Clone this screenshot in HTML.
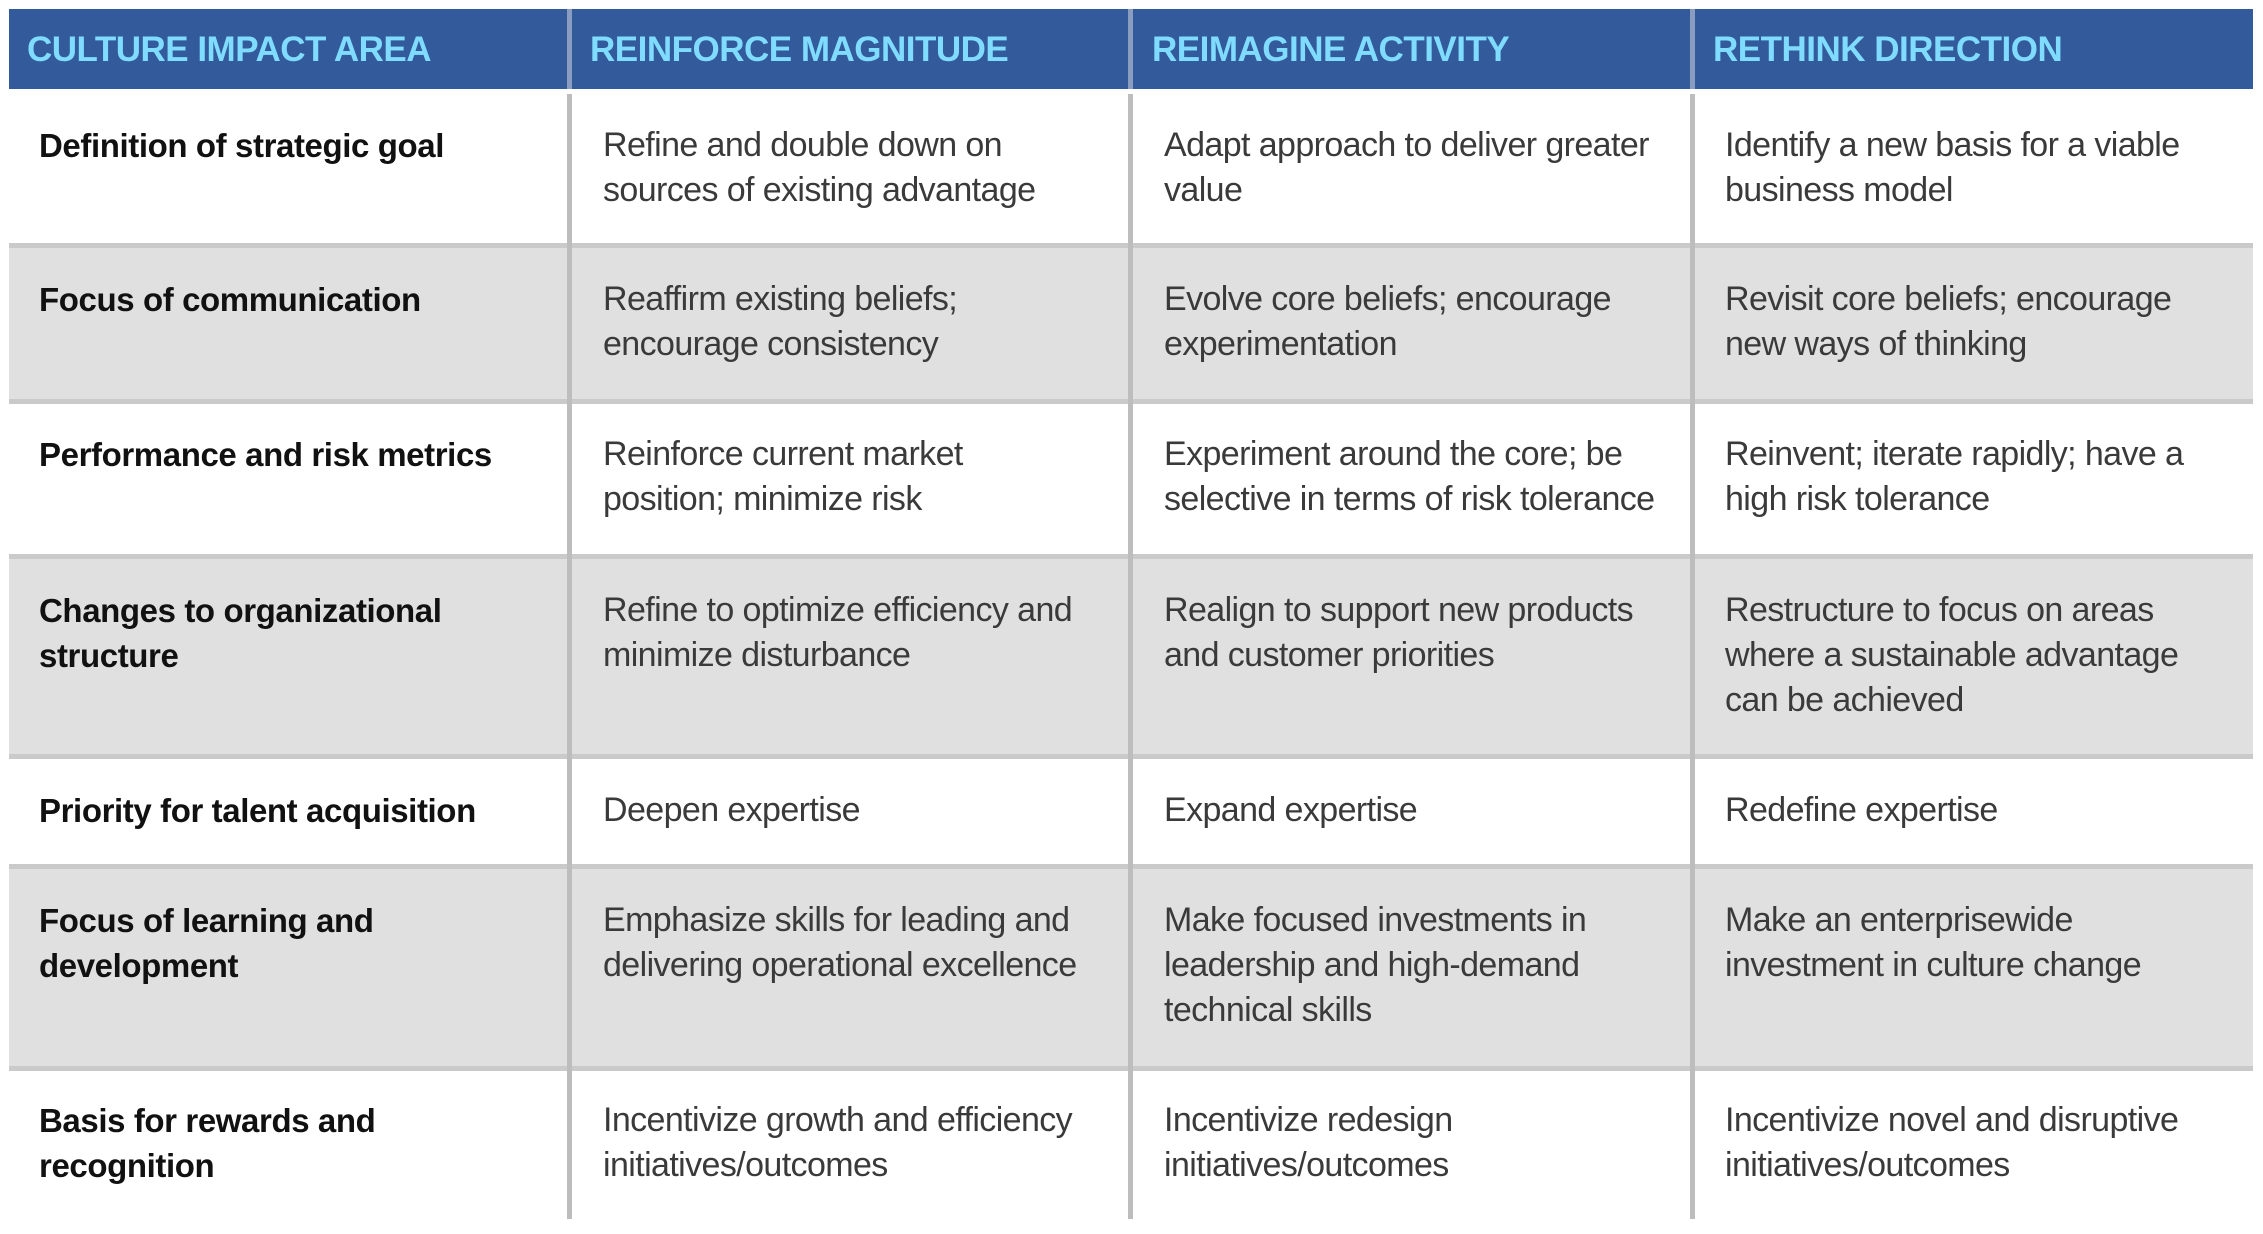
<!DOCTYPE html>
<html><head><meta charset="utf-8"><style>
html,body{margin:0;padding:0;background:#fff;}
body{width:2263px;height:1234px;position:relative;overflow:hidden;font-family:"Liberation Sans",sans-serif;}
.hdr{position:absolute;left:9px;top:9px;width:2244px;height:80px;background:#335a9a;}
.h{position:absolute;top:9px;height:80px;line-height:82px;color:#7fdcff;font-weight:bold;font-size:35px;letter-spacing:-0.5px;white-space:nowrap;}
.row{position:absolute;left:9px;width:2244px;}
.g{background:#e0e0e0;}
.hl{position:absolute;left:9px;width:2244px;height:5px;background:#cacaca;}
.vl{position:absolute;width:5px;background:#bdbdbd;}
.t{position:absolute;font-size:34px;line-height:45px;color:#3a3a3a;letter-spacing:-0.6px;white-space:nowrap;}
.b{font-weight:bold;color:#111;letter-spacing:-0.4px;font-size:33px;}
</style></head><body>
<div class="hdr"></div>
<div class="vl" style="left:567px;top:9px;height:80px;background:#8a9cc0"></div>
<div class="vl" style="left:1128px;top:9px;height:80px;background:#8a9cc0"></div>
<div class="vl" style="left:1690px;top:9px;height:80px;background:#8a9cc0"></div>
<div class="h" style="left:27px">CULTURE IMPACT AREA</div>
<div class="h" style="left:590px">REINFORCE MAGNITUDE</div>
<div class="h" style="left:1152px">REIMAGINE ACTIVITY</div>
<div class="h" style="left:1713px">RETHINK DIRECTION</div>

<div class="row" style="top:89px;height:156px"></div>
<div class="row g" style="top:245px;height:156px"></div>
<div class="row" style="top:401px;height:155px"></div>
<div class="row g" style="top:556px;height:200px"></div>
<div class="row" style="top:756px;height:110px"></div>
<div class="row g" style="top:866px;height:202px"></div>
<div class="row" style="top:1068px;height:151px"></div>

<div class="hl" style="top:243px"></div>
<div class="hl" style="top:399px"></div>
<div class="hl" style="top:554px"></div>
<div class="hl" style="top:754px"></div>
<div class="hl" style="top:864px"></div>
<div class="hl" style="top:1066px"></div>

<div class="vl" style="left:567px;top:94px;height:1125px"></div>
<div class="vl" style="left:1128px;top:94px;height:1125px"></div>
<div class="vl" style="left:1690px;top:94px;height:1125px"></div>

<!-- row 1 -->
<div class="t b" style="left:39px;top:123px">Definition of strategic goal</div>
<div class="t" style="left:603px;top:123px">Refine and double down on<br>sources of existing advantage</div>
<div class="t" style="left:1164px;top:123px">Adapt approach to deliver greater<br>value</div>
<div class="t" style="left:1725px;top:123px">Identify a new basis for a viable<br>business model</div>
<!-- row 2 -->
<div class="t b" style="left:39px;top:277px">Focus of communication</div>
<div class="t" style="left:603px;top:277px">Reaffirm existing beliefs;<br>encourage consistency</div>
<div class="t" style="left:1164px;top:277px">Evolve core beliefs; encourage<br>experimentation</div>
<div class="t" style="left:1725px;top:277px">Revisit core beliefs; encourage<br>new ways of thinking</div>
<!-- row 3 -->
<div class="t b" style="left:39px;top:432px">Performance and risk metrics</div>
<div class="t" style="left:603px;top:432px">Reinforce current market<br>position; minimize risk</div>
<div class="t" style="left:1164px;top:432px">Experiment around the core; be<br>selective in terms of risk tolerance</div>
<div class="t" style="left:1725px;top:432px">Reinvent; iterate rapidly; have a<br>high risk tolerance</div>
<!-- row 4 -->
<div class="t b" style="left:39px;top:588px">Changes to organizational<br>structure</div>
<div class="t" style="left:603px;top:588px">Refine to optimize efficiency and<br>minimize disturbance</div>
<div class="t" style="left:1164px;top:588px">Realign to support new products<br>and customer priorities</div>
<div class="t" style="left:1725px;top:588px">Restructure to focus on areas<br>where a sustainable advantage<br>can be achieved</div>
<!-- row 5 -->
<div class="t b" style="left:39px;top:788px">Priority for talent acquisition</div>
<div class="t" style="left:603px;top:788px">Deepen expertise</div>
<div class="t" style="left:1164px;top:788px">Expand expertise</div>
<div class="t" style="left:1725px;top:788px">Redefine expertise</div>
<!-- row 6 -->
<div class="t b" style="left:39px;top:898px">Focus of learning and<br>development</div>
<div class="t" style="left:603px;top:898px">Emphasize skills for leading and<br>delivering operational excellence</div>
<div class="t" style="left:1164px;top:898px">Make focused investments in<br>leadership and high-demand<br>technical skills</div>
<div class="t" style="left:1725px;top:898px">Make an enterprisewide<br>investment in culture change</div>
<!-- row 7 -->
<div class="t b" style="left:39px;top:1098px">Basis for rewards and<br>recognition</div>
<div class="t" style="left:603px;top:1098px">Incentivize growth and efficiency<br>initiatives/outcomes</div>
<div class="t" style="left:1164px;top:1098px">Incentivize redesign<br>initiatives/outcomes</div>
<div class="t" style="left:1725px;top:1098px">Incentivize novel and disruptive<br>initiatives/outcomes</div>
</body></html>
